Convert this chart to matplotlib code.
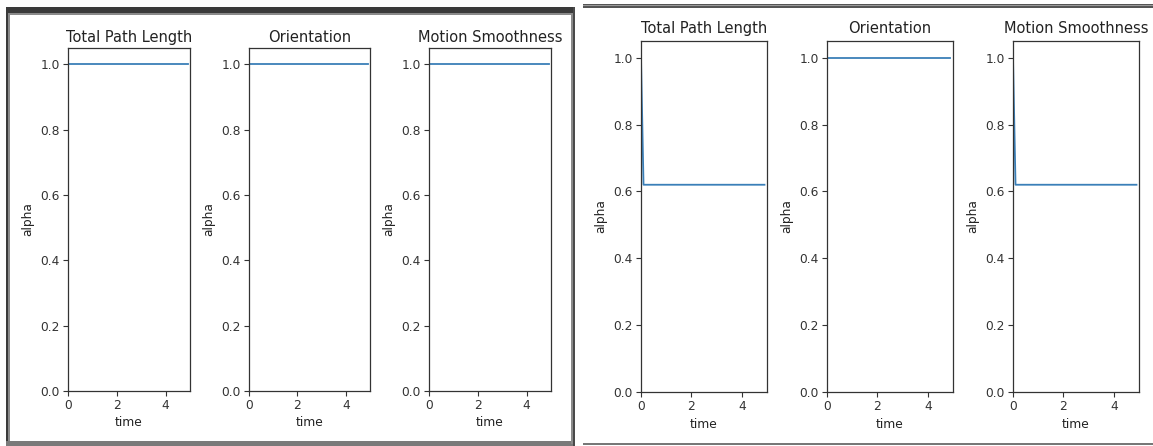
import matplotlib
matplotlib.use("Agg")
import matplotlib.pyplot as plt
from matplotlib.patches import Rectangle

W, H = 1153, 446

titles = ["Total Path Length", "Orientation", "Motion Smoothness"]

# left screenshot: all metrics constant at 1.0
left_time = [0.0, 4.9]
left_alpha = [[1.0, 1.0], [1.0, 1.0], [1.0, 1.0]]

# right screenshot: drop to ~0.62 for path length and smoothness
right_time = [0.0, 0.1, 4.9]
right_alpha = [[1.0, 0.62, 0.62], [1.0, 1.0, 1.0], [1.0, 0.62, 0.62]]

yticks = [0.0, 0.2, 0.4, 0.6, 0.8, 1.0]
xticks = [0, 2, 4]

fig = plt.figure(figsize=(W / 100, H / 100), dpi=100)
fig.patch.set_facecolor("white")


def px_axes(x0, x1, top, bottom):
    return fig.add_axes([x0 / W, 1 - bottom / H, (x1 - x0) / W, (bottom - top) / H])


def style(ax, title, time, vals, titlepad):
    ax.plot(time, vals, color="#3a7fb8", lw=1.3)
    ax.set_xlim(0, 5)
    ax.set_ylim(0, 1.05)
    ax.set_yticks(yticks)
    ax.set_xticks(xticks)
    ax.tick_params(labelsize=8.8, length=3.5, width=0.8, colors="#333333", pad=2.5)
    for s in ax.spines.values():
        s.set_color("#333333")
        s.set_linewidth(0.9)
    ax.set_title(title, fontsize=10.5, color="#222222", pad=titlepad)
    ax.set_xlabel("time", fontsize=8.8, color="#222222", labelpad=3)
    ax.set_ylabel("alpha", fontsize=8.8, color="#222222", labelpad=4)


left_pos = [(68, 190), (249, 370), (429, 551)]
for (x0, x1), t, v in zip(left_pos, titles, left_alpha):
    ax = px_axes(x0, x1, 48, 391)
    style(ax, t, left_time, v, 4)

right_pos = [(641, 767), (827, 953), (1013, 1139)]
for (x0, x1), t, v in zip(right_pos, titles, right_alpha):
    ax = px_axes(x0, x1, 41, 392)
    style(ax, t, right_time, v, 6)


def rect(x, y, w, h, color):
    fig.add_artist(Rectangle((x / W, 1 - (y + h) / H), w / W, h / H,
                             transform=fig.transFigure, facecolor=color,
                             edgecolor="none", zorder=10))


# left screenshot frame
rect(6, 7, 569, 6, "#3a3a3a")
rect(6, 13, 569, 2, "#8a8a8a")
rect(6, 7, 2, 439, "#3a3a3a")
rect(8, 13, 2, 433, "#8a8a8a")
rect(6, 441, 569, 5, "#7a7a7a")
rect(571, 13, 2, 431, "#8a8a8a")
rect(573, 7, 2, 439, "#4a4a4a")

# right screenshot lines
rect(583, 4, 570, 1, "#555555")
rect(583, 5, 570, 1.5, "#9a9a9a")
rect(583, 6.5, 570, 1, "#555555")
rect(583, 443, 570, 2, "#777777")

fig.savefig("out.png", dpi=100, facecolor="white")
